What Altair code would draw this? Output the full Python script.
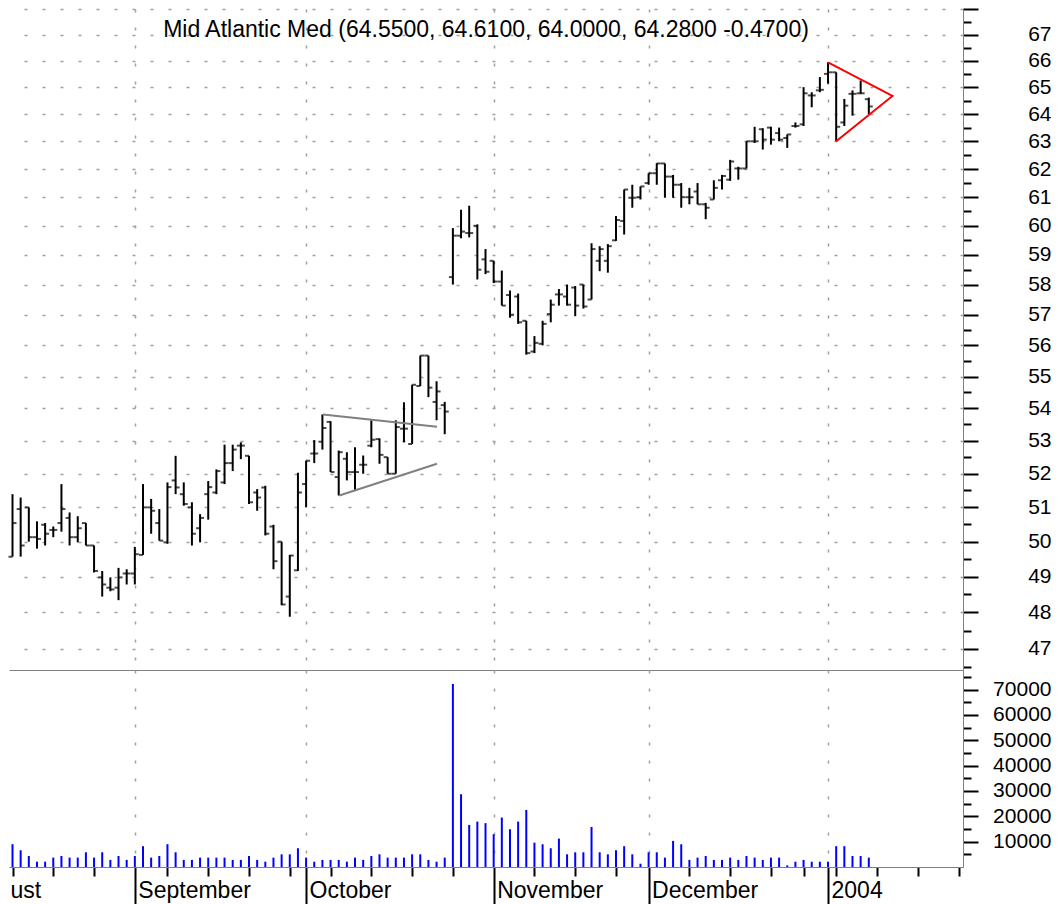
import altair as alt
import pandas as pd

# ---------------- data ----------------
idx = list(range(106))

highs = [51.39, 51.29, 51.00, 50.59, 50.54, 50.44, 51.69, 50.85, 50.74, 50.54,
         49.89, 49.16, 48.98, 49.25, 49.21, 49.85, 51.69, 51.25, 50.95, 51.74,
         52.54, 51.74, 51.15, 50.80, 51.78, 52.13, 52.88, 52.88, 52.95, 52.54,
         51.54, 51.64, 50.49, 50.00, 49.62, 52.03, 52.39, 53.02, 53.81, 53.60,
         52.70, 52.65, 52.80, 52.55, 53.63, 53.07, 52.50, 53.63, 54.19, 54.74,
         55.67, 55.67, 54.85, 54.20, 59.92, 60.56, 60.70, 60.05, 59.20, 58.80,
         58.47, 57.80, 57.70, 56.80, 56.30, 56.80, 57.50, 57.85, 58.00, 57.95,
         58.00, 59.40, 59.30, 59.37, 60.34, 61.27, 61.44, 61.38, 61.85, 62.21,
         62.20, 61.79, 61.50, 61.33, 61.50, 60.80, 61.60, 61.79, 62.33, 62.08,
         63.00, 63.53, 63.48, 63.53, 63.50, 63.25, 63.69, 65.00, 64.81, 65.38,
         65.94, 65.56, 64.56, 64.88, 65.25, 64.61]
lows = [49.57, 49.57, 50.00, 49.80, 49.89, 50.13, 50.29, 49.89, 49.98, 49.89,
        49.12, 48.44, 48.59, 48.34, 48.78, 48.78, 49.62, 50.23, 50.03, 49.94,
        51.39, 51.05, 49.89, 49.98, 50.64, 51.39, 51.69, 52.08, 52.44, 51.10,
        50.90, 50.18, 49.21, 48.20, 47.88, 49.16, 51.00, 52.32, 52.73, 52.05,
        51.35, 51.80, 51.50, 52.00, 52.80, 52.30, 52.00, 52.00, 52.95, 52.90,
        54.70, 54.35, 53.63, 53.20, 58.00, 59.57, 59.60, 58.17, 58.35, 58.05,
        57.30, 56.90, 56.70, 55.70, 55.75, 56.00, 56.75, 57.30, 57.30, 56.95,
        57.20, 57.50, 58.45, 58.40, 59.48, 59.70, 60.63, 60.92, 61.44, 61.44,
        60.98, 60.98, 60.63, 60.75, 60.75, 60.23, 60.92, 61.27, 61.58, 61.62,
        62.02, 62.94, 62.70, 62.88, 63.00, 62.76, 63.50, 63.56, 64.25, 64.81,
        65.13, 63.00, 63.56, 63.94, 64.75, 64.00]
opens = [49.57, 50.95, 51.00, 50.13, 50.49, 50.34, 50.54, 50.69, 50.13, 50.54,
         49.89, 48.98, 48.69, 48.69, 49.09, 49.09, 49.62, 51.00, 50.54, 49.98,
         51.80, 51.39, 51.00, 50.39, 51.39, 51.44, 51.74, 52.32, 52.85, 52.54,
         51.44, 51.59, 50.44, 50.00, 48.44, 49.18, 51.69, 52.61, 52.97, 53.58,
         51.90, 52.45, 52.05, 52.27, 52.85, 53.05, 52.50, 52.00, 53.37, 52.90,
         54.70, 55.67, 54.20, 54.10, 58.25, 59.66, 59.75, 60.00, 58.85, 58.80,
         58.10, 57.65, 57.60, 56.80, 55.80, 56.05, 57.02, 57.67, 57.60, 57.90,
         58.00, 57.50, 58.80, 58.80, 59.50, 60.17, 60.98, 61.00, 61.50, 61.85,
         62.20, 61.73, 61.44, 61.00, 61.20, 60.75, 60.92, 61.60, 61.62, 62.02,
         62.02, 63.00, 63.44, 63.50, 63.30, 63.12, 63.56, 63.62, 64.69, 64.88,
         65.50, 65.56, 63.69, 64.75, 64.77, 64.55]
closes = [50.54, 49.89, 50.13, 50.08, 50.23, 50.34, 50.95, 50.13, 50.39, 49.89,
          49.16, 48.78, 48.64, 48.98, 49.09, 49.64, 51.00, 50.90, 50.03, 51.60,
          51.59, 51.10, 50.23, 50.69, 51.60, 52.08, 52.32, 52.73, 52.85, 51.15,
          51.29, 50.23, 49.44, 48.22, 49.60, 51.44, 52.39, 52.61, 53.39, 52.05,
          52.65, 52.05, 52.05, 52.27, 53.03, 52.57, 52.00, 53.42, 53.37, 54.74,
          55.67, 54.65, 54.53, 53.90, 59.66, 59.80, 59.75, 58.50, 58.43, 58.10,
          57.30, 57.00, 56.75, 55.75, 56.08, 56.70, 57.33, 57.67, 57.33, 57.30,
          57.27, 59.20, 59.20, 59.30, 60.20, 61.27, 60.98, 61.38, 61.85, 62.20,
          61.73, 61.44, 61.00, 61.00, 60.75, 60.63, 61.33, 61.75, 62.27, 62.02,
          63.00, 63.00, 63.06, 63.06, 63.06, 63.25, 63.56, 64.77, 64.69, 64.90,
          65.56, 63.53, 64.31, 64.75, 64.77, 64.28]
volumes = [9000, 6600, 4350, 2100, 2100, 3700, 4350, 3700, 3700, 5800,
           3700, 5800, 2800, 4350, 2800, 4350, 8200, 3700, 4350, 9000,
           5800, 2800, 2800, 3700, 3700, 3700, 3700, 2800, 2800, 4350,
           2800, 2100, 3700, 5000, 5000, 7400, 3700, 2100, 2800, 2800,
           2800, 2100, 3700, 2800, 4350, 5000, 3700, 3700, 3700, 5000,
           5000, 2800, 2100, 3700, 72200, 28700, 16600, 17900, 17300, 12900,
           19500, 14900, 17900, 22500, 9600, 8960, 7400, 11200, 5000, 5800,
           5800, 15800, 5800, 5000, 6600, 8200, 5000, 1300, 5800, 5800,
           3700, 10300, 8960, 2800, 3700, 4350, 2800, 2800, 3700, 2800,
           4350, 3700, 2800, 3700, 3700, 650, 2100, 2800, 2100, 2100,
           2100, 8200, 8200, 4350, 4350, 3700]

# trend lines drawn on the chart
gray_seg = ["upper", "upper", "lower", "lower"]
gray_x = [38.07, 52.05, 40.07, 52.05]
gray_p = [53.81, 53.43, 51.35, 52.30]
red_order = [0, 1, 2]
red_x = [100.0, 107.9, 101.0]
red_p = [65.94, 64.67, 63.00]

# axis labelling
month_idx = [15, 36, 59, 78, 100]
month_names = ["September", "October", "November", "December", "2004"]
week_idx = [0, 5, 10, 19, 24, 29, 34, 39, 44, 49, 54, 64, 69, 74, 83, 88, 93,
            97, 101, 106, 111, 116]
left_label = "ust"
price_ticks = [46.5 + 0.5 * k for k in range(44)]
vol_ticks = list(range(5000, 80000, 5000))
title_text = "Mid Atlantic Med (64.5500, 64.6100, 64.0000, 64.2800 -0.4700)"

# ---------------- tables ----------------
price_df = pd.DataFrame({"i": idx, "o": opens, "h": highs, "l": lows, "c": closes})
vol_df = pd.DataFrame({"i": idx, "v": volumes})
gray_df = pd.DataFrame({"seg": gray_seg, "i": gray_x, "p": gray_p})
red_df = pd.DataFrame({"k": red_order, "i": red_x, "p": red_p})
title_df = pd.DataFrame({"t": [title_text]})

FONT = "Liberation Sans"
GRID = "#a0a0a0"
X_LEFT = -0.43
W, H_PRICE, H_VOL = 954, 661, 197
xscale = alt.Scale(domain=[X_LEFT, 116.55], nice=False, zero=False)
pscale = alt.Scale(type="log", domain=[46.43, 68.0], nice=False, zero=False)
vscale = alt.Scale(domain=[0, 77700], nice=False, zero=False)

month_test = "indexof([" + ",".join(str(m) for m in month_idx) + "], datum.value) >= 0"
label_expr = ""
for m, n in zip(month_idx, month_names):
    label_expr += f"datum.value == {m} ? '{n}' : "
label_expr += f"datum.value < 0 ? '{left_label}' : ''"

# price panel x axis: only the separator line + month grid
x_price_axis = alt.Axis(orient="bottom", values=month_idx, labels=False, ticks=False,
                        domain=True, domainColor="#808080", domainWidth=1,
                        grid=True, gridColor=GRID, gridDash=[3, 15], gridWidth=1.5)

y_price_axis = alt.Axis(
    orient="right", values=price_ticks, format=".0f",
    labelExpr="(datum.value % 1 == 0 && datum.value < 67.5) ? datum.label : ''",
    tickSize={"condition": {"test": "datum.value % 1 == 0", "value": 15}, "value": 8},
    tickColor="black", tickWidth=2, domainColor="#808080", domainWidth=1,
    grid=True, gridColor=GRID, gridDash=[3, 15], gridWidth=1.5,
    gridOpacity={"condition": {"test": "datum.value % 1 == 0", "value": 1}, "value": 0},
    labelFont=FONT, labelFontSize=21, labelColor="black", labelAlign="right",
    labelBaseline={"condition": {"test": "datum.value > 67.75", "value": "top"},
                   "value": "middle"},
    labelPadding=73, labelOverlap=False, labelFlush=False)


def px(field="i"):
    return alt.X(f"{field}:Q", scale=xscale, axis=x_price_axis, title=None)


def py(field):
    return alt.Y(f"{field}:Q", scale=pscale, axis=y_price_axis, title=None)


hl = alt.Chart(price_df).mark_rule(color="black", strokeWidth=2).encode(
    x=px(), y=py("l"), y2="h:Q")
op = alt.Chart(price_df).mark_tick(color="black", orient="horizontal", size=4,
                                   thickness=2, xOffset=-2).encode(x=px(), y=py("o"))
cl = alt.Chart(price_df).mark_tick(color="black", orient="horizontal", size=4,
                                   thickness=2, xOffset=2).encode(x=px(), y=py("c"))
gray = alt.Chart(gray_df).mark_line(color="#808080", strokeWidth=2).encode(
    x=px(), y=py("p"), detail="seg:N")
red = alt.Chart(red_df).mark_line(color="#ff0000", strokeWidth=2).encode(
    x=px(), y=py("p"), order="k:Q")
ttl = alt.Chart(title_df).mark_text(font=FONT, fontSize=23, color="black",
                                    align="center", baseline="alphabetic").encode(
    text="t:N", x=alt.value(W / 2), y=alt.value(28))

price = alt.layer(hl, op, cl, gray, red, ttl).properties(width=W, height=H_PRICE)

# volume panel
x_vol_axis = alt.Axis(
    orient="bottom", values=[X_LEFT] + sorted(week_idx + month_idx),
    labelExpr=label_expr,
    tickSize={"condition": {"test": month_test, "value": 40}, "value": 9},
    tickOpacity={"condition": {"test": "datum.value < 0", "value": 0}, "value": 1},
    tickColor="black", tickWidth=2, domainColor="#808080", domainWidth=1,
    grid=True, gridColor=GRID, gridDash=[3, 15], gridWidth=1.5,
    gridOpacity={"condition": {"test": month_test, "value": 1}, "value": 0},
    labelFont=FONT, labelFontSize=23, labelColor="black", labelAlign="left",
    labelBaseline="top",
    labelPadding={"condition": {"test": month_test, "value": -27.5}, "value": 3.5},
    labelOffset={"condition": {"test": "datum.value < 0", "value": 1.0}, "value": 3.0},
    labelOverlap=False, labelFlush=False)

y_vol_axis = alt.Axis(
    orient="right", values=vol_ticks, format="d",
    labelExpr="datum.value % 10000 == 0 ? datum.label : ''",
    tickSize={"condition": {"test": "datum.value % 10000 == 0", "value": 15}, "value": 8},
    tickColor="black", tickWidth=2, domainColor="#808080", domainWidth=1, grid=False,
    labelFont=FONT, labelFontSize=21, labelColor="black", labelAlign="right",
    labelBaseline="middle", labelPadding=73, labelOverlap=False, labelFlush=False)

vol = alt.Chart(vol_df).mark_rule(color="#0000ff", strokeWidth=2).encode(
    x=alt.X("i:Q", scale=xscale, axis=x_vol_axis, title=None),
    y=alt.Y("v:Q", scale=vscale, axis=y_vol_axis, title=None),
    y2=alt.datum(0)).properties(width=W, height=H_VOL)

chart = alt.vconcat(price, vol, spacing=0, bounds="flush").properties(
    padding={"left": 0, "top": 0, "right": 0, "bottom": 0},
    background="white"
).configure_view(stroke=None)

chart.save("out.html", embed_options={"renderer": "svg", "actions": False})
